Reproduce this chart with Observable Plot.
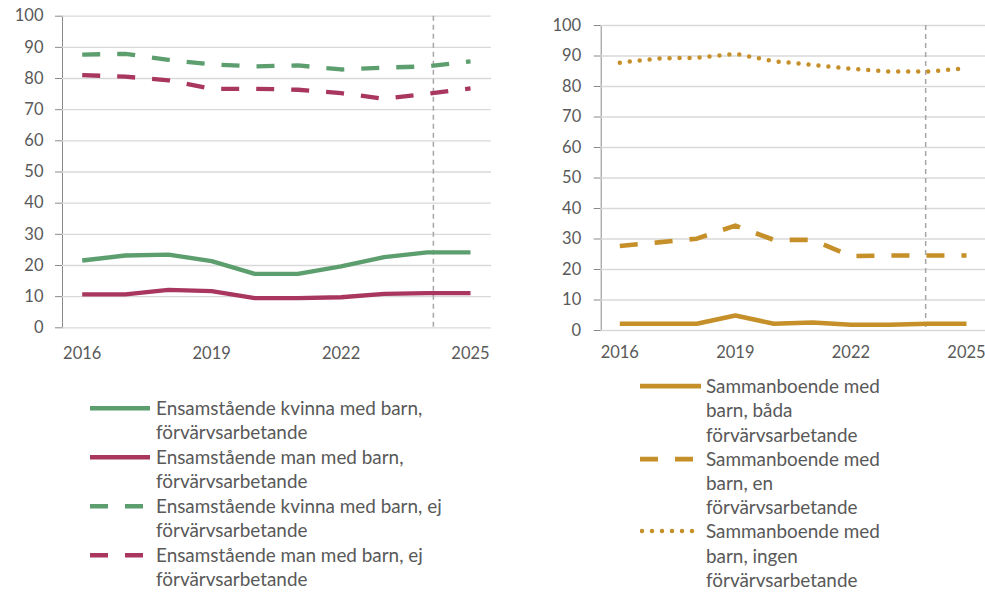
<!DOCTYPE html>
<html>
<head>
<meta charset="utf-8">
<script src="https://cdn.jsdelivr.net/npm/d3@7"></script>
<script src="https://cdn.jsdelivr.net/npm/@observablehq/plot@0.6"></script>
<style>
  html, body { margin: 0; padding: 0; background: #ffffff; }
  #wrap { position: relative; width: 985px; height: 592px; overflow: hidden; font-family: Lato, "Open Sans", sans-serif; }
  .plot { position: absolute; top: 0; }
  .plot svg text { fill: #595959; }
  .legend { position: absolute; color: #595959; font-family: Lato, sans-serif; font-size: 18.9px; }
  .entry { display: flex; align-items: flex-start; }
  .entry .sw { flex: none; }
  .entry .tx { white-space: pre-line; }
</style>
</head>
<body>
<div id="wrap">
  <div id="left" class="plot" style="left:0px"></div>
  <div id="right" class="plot" style="left:500px"></div>
  <div id="legLeft" class="legend" style="left:90px; top:395.5px; line-height:24.5px"></div>
  <div id="legRight" class="legend" style="left:640px; top:374.2px; line-height:24.2px"></div>
</div>
<script>
// ---- data ----
const years = [2016, 2017, 2018, 2019, 2020, 2021, 2022, 2023, 2024, 2025];
const xTicks = [2016, 2019, 2022, 2025];
const yTicks = [0, 10, 20, 30, 40, 50, 60, 70, 80, 90, 100];

// left panel: single parents (percent)
const kvinnaArb = [21.6, 23.2, 23.5, 21.4, 17.3, 17.3, 19.7, 22.7, 24.2, 24.2];
const manArb    = [10.7, 10.7, 12.2, 11.8, 9.5, 9.5, 9.8, 10.9, 11.1, 11.1];
const kvinnaEj  = [87.7, 87.9, 86.0, 84.5, 83.9, 84.2, 82.9, 83.5, 83.9, 85.5];
const manEj     = [81.1, 80.6, 79.4, 76.7, 76.7, 76.4, 75.3, 73.5, 75.1, 76.8];

// right panel: cohabiting parents (percent)
const bada  = [2.2, 2.2, 2.2, 4.9, 2.2, 2.6, 1.9, 1.9, 2.2, 2.2];
const en    = [27.7, 28.9, 30.1, 34.4, 29.7, 29.7, 24.4, 24.6, 24.6, 24.6];
const ingen = [87.8, 89.2, 89.4, 90.7, 88.3, 87.1, 85.8, 84.9, 84.9, 86.0];

// vertical reference markers (x position in years)
const markerLeft = [2024.14];
const markerRight = [2023.94];

const labelsLeft = [
  "Ensamstående kvinna med barn,\nförvärvsarbetande",
  "Ensamstående man med barn,\nförvärvsarbetande",
  "Ensamstående kvinna med barn, ej\nförvärvsarbetande",
  "Ensamstående man med barn, ej\nförvärvsarbetande"
];
const labelsRight = [
  "Sammanboende med\nbarn, båda\nförvärvsarbetande",
  "Sammanboende med\nbarn, en\nförvärvsarbetande",
  "Sammanboende med\nbarn, ingen\nförvärvsarbetande"
];

// ---- styles ----
const GREEN = "#5c9e6e", RED = "#a8365f", GOLD = "#c58f29";
const SOLID = null, DASH = "18,17", DOT = "0,10";

const seriesLeft = [
  {values: kvinnaArb, color: GREEN, dash: SOLID, width: 4.3, cap: "butt"},
  {values: manArb,    color: RED,   dash: SOLID, width: 4.3, cap: "butt"},
  {values: kvinnaEj,  color: GREEN, dash: DASH,  width: 4.3, cap: "butt"},
  {values: manEj,     color: RED,   dash: DASH,  width: 4.3, cap: "butt"}
];
const seriesRight = [
  {values: bada,  color: GOLD, dash: SOLID, width: 4.6, cap: "butt"},
  {values: en,    color: GOLD, dash: DASH,  width: 4.6, cap: "butt"},
  {values: ingen, color: GOLD, dash: DOT,   width: 4.5, cap: "round"}
];

function toRows(values) { return years.map((year, i) => ({year, value: values[i]})); }

function panel(series, marker, opts) {
  return Plot.plot({
    width: opts.width,
    height: opts.height,
    marginLeft: opts.marginLeft,
    marginRight: opts.marginRight,
    marginTop: opts.marginTop,
    marginBottom: opts.marginBottom,
    style: {fontFamily: "Lato, sans-serif", fontSize: "16.5px", color: "#8a8a8a", background: "transparent", overflow: "visible"},
    x: {domain: [2016, 2025], insetLeft: opts.insetLeft, insetRight: opts.insetRight,
        ticks: xTicks, tickFormat: d => String(d), tickSize: 0, tickPadding: opts.xPad, label: null},
    y: {domain: [0, 100], ticks: yTicks, tickSize: 7, tickPadding: opts.yPad, label: null, line: true},
    marks: [
      Plot.ruleY(yTicks, {stroke: "#d9d9d9", strokeWidth: 1.3}),
      Plot.ruleX(marker, {stroke: "#a6a6a6", strokeWidth: 1.5, strokeDasharray: "5,4"}),
      ...series.map(s => Plot.line(toRows(s.values), {
        x: "year", y: "value", stroke: s.color, strokeWidth: s.width,
        strokeDasharray: s.dash || undefined, strokeLinecap: s.cap, strokeLinejoin: "round"
      }))
    ]
  });
}

document.getElementById("left").appendChild(panel(seriesLeft, markerLeft, {
  width: 491, height: 370, marginLeft: 62, marginRight: 0, marginTop: 15.7, marginBottom: 42.7,
  insetLeft: 19.7, insetRight: 21, xPad: 19, yPad: 12
}));
document.getElementById("right").appendChild(panel(seriesRight, markerRight, {
  width: 485, height: 370, marginLeft: 100.7, marginRight: 0, marginTop: 25, marginBottom: 40,
  insetLeft: 18.6, insetRight: 19, xPad: 16, yPad: 13
}));

function legend(el, series, labels, swW, gap, lh) {
  series.forEach((s, i) => {
    const row = document.createElement("div");
    row.className = "entry";
    const sw = document.createElementNS("http://www.w3.org/2000/svg", "svg");
    sw.setAttribute("class", "sw");
    sw.setAttribute("width", swW);
    sw.setAttribute("height", lh);
    sw.style.marginRight = gap + "px";
    const ln = document.createElementNS("http://www.w3.org/2000/svg", "line");
    const pad = s.cap === "round" ? 2 : 0;
    ln.setAttribute("x1", pad); ln.setAttribute("x2", swW);
    ln.setAttribute("y1", lh / 2); ln.setAttribute("y2", lh / 2);
    ln.setAttribute("stroke", s.color);
    ln.setAttribute("stroke-width", s.width);
    ln.setAttribute("stroke-linecap", s.cap);
    if (s.dash) ln.setAttribute("stroke-dasharray", s.dash);
    sw.appendChild(ln);
    const tx = document.createElement("div");
    tx.className = "tx";
    tx.textContent = labels[i];
    row.appendChild(sw); row.appendChild(tx);
    el.appendChild(row);
  });
}
legend(document.getElementById("legLeft"), seriesLeft, labelsLeft, 60, 6, 24.5);
legend(document.getElementById("legRight"), seriesRight, labelsRight, 61, 5, 24.2);
</script>
</body>
</html>
